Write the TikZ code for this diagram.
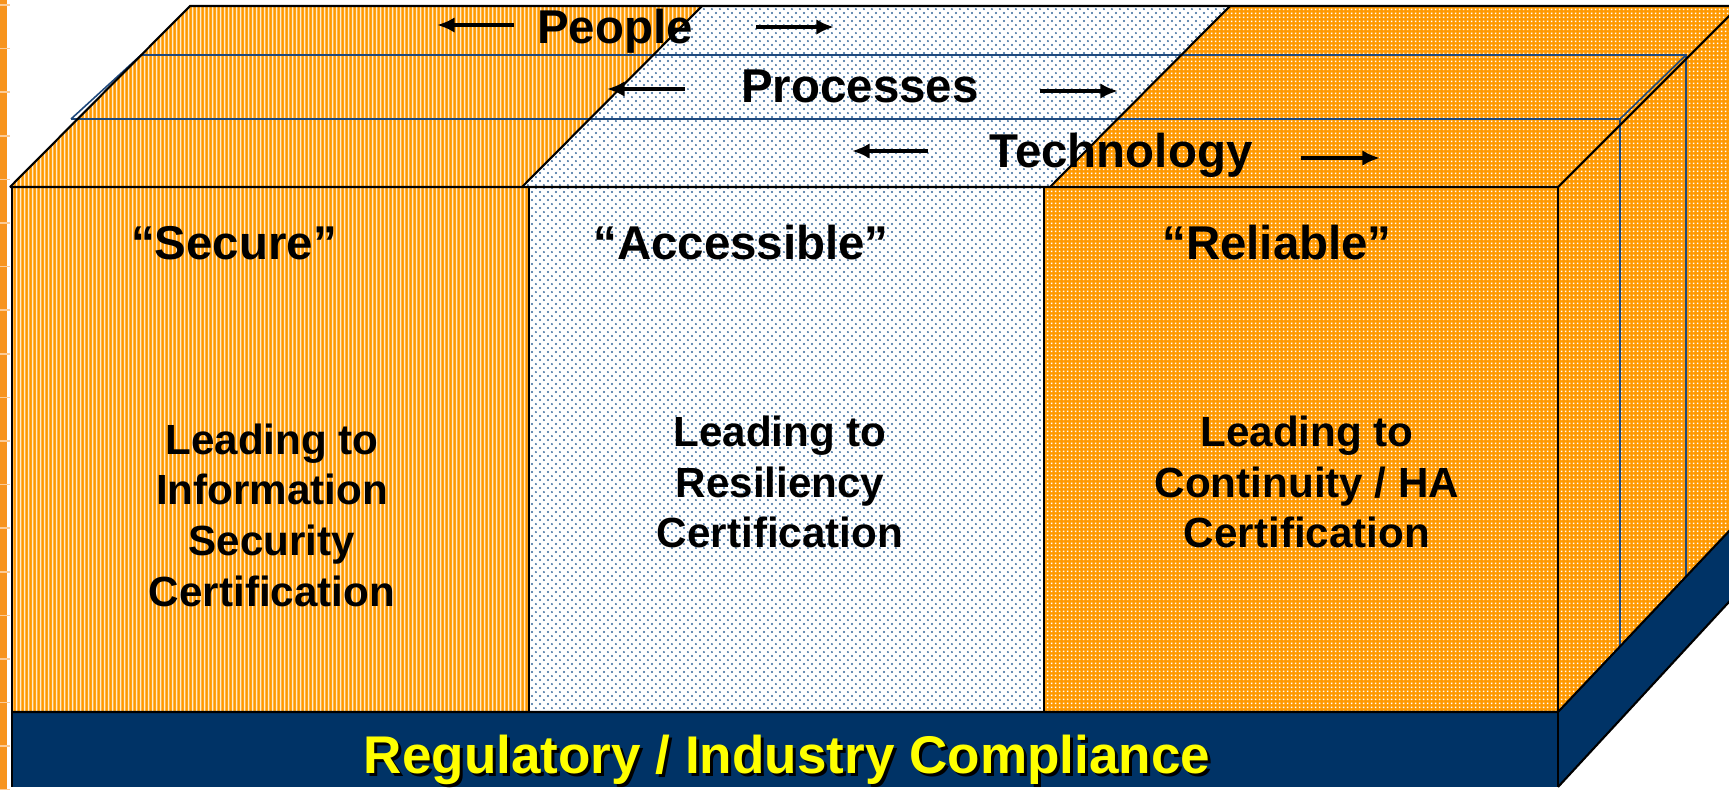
\documentclass[tikz,border=0pt]{standalone}
\usepackage{fontspec}
\setmainfont{Liberation Sans}
\usetikzlibrary{patterns,arrows.meta}

\definecolor{boxorange}{RGB}{255,153,0}
\definecolor{stripelight}{RGB}{255,236,205}
\definecolor{dotblue}{RGB}{51,102,153}
\definecolor{basenavy}{RGB}{0,51,102}
\definecolor{slabblue}{RGB}{31,73,125}
\definecolor{sideorange}{RGB}{247,148,29}
\definecolor{ticklight}{RGB}{252,204,150}
\definecolor{compyellow}{RGB}{255,255,0}

% fill patterns of the three columns
\pgfdeclarepatternformonly{tinystripes}{\pgfpointorigin}{\pgfqpoint{1.05pt}{20pt}}{\pgfqpoint{1.05pt}{20pt}}{%
	\pgfpathrectangle{\pgfqpoint{0.25pt}{0pt}}{\pgfqpoint{0.5pt}{20pt}}%
	\pgfusepath{fill}}
\pgfdeclarepatternformonly{tinydots}{\pgfpointorigin}{\pgfqpoint{2.4pt}{2.4pt}}{\pgfqpoint{2.4pt}{2.4pt}}{%
	\pgfpathcircle{\pgfqpoint{0.6pt}{0.6pt}}{0.32pt}%
	\pgfpathcircle{\pgfqpoint{1.8pt}{1.8pt}}{0.32pt}%
	\pgfusepath{fill}}
\pgfdeclarepatternformonly{tinysquares}{\pgfpointorigin}{\pgfqpoint{1.15pt}{1.15pt}}{\pgfqpoint{1.15pt}{1.15pt}}{%
	\pgfpathrectangle{\pgfqpoint{0.35pt}{0.35pt}}{\pgfqpoint{0.45pt}{0.45pt}}%
	\pgfusepath{fill}}

\begin{document}
\begin{tikzpicture}[x=0.1mm,y=-0.1mm,line width=0.6pt,>={Latex[length=5pt,width=4.4pt]},
	stripeface/.style={preaction={fill=boxorange},pattern=tinystripes,pattern color=stripelight},
	dotface/.style={preaction={fill=white},pattern=tinydots,pattern color=dotblue},
	gridface/.style={preaction={fill=boxorange},pattern=tinysquares,pattern color=white},
	slabline/.style={draw=slabblue,line width=0.45pt},
	flow/.style={->,line width=1pt},
	layer/.style={font=\fontsize{13.5}{16}\selectfont\bfseries,anchor=base,inner sep=0pt},
	heading/.style={font=\fontsize{13.5}{16}\selectfont\bfseries,anchor=base,inner sep=0pt},
	bodytext/.style={font=\fontsize{12}{14.4}\selectfont\bfseries,align=center,inner sep=0pt},
	basetext/.style={font=\fontsize{15.1}{18}\selectfont\bfseries,anchor=base,inner sep=0pt}]
		\useasboundingbox (0,0) rectangle (1729,789);
		\fill[white] (0,0) rectangle (1729,789);
		\clip (0,0) rectangle (1729,789);
		% orange bar at the left edge
		\fill[sideorange] (0,0) rectangle (7,789);
		\foreach \t in {0,...,18}
			\draw[ticklight,line width=0.45pt] (0,{5+43.6*\t}) -- (10,{5+43.6*\t});
		% front columns
		\fill[stripeface] (12,187) rectangle (529,712);
		\fill[dotface] (529,187) rectangle (1044,712);
		\fill[gridface] (1044,187) rectangle (1558,712);
		% top face
		\fill[stripeface] (10,187) -- (522,187) -- (702,6) -- (190,6) -- cycle;
		\fill[dotface] (522,187) -- (1050,187) -- (1230,6) -- (702,6) -- cycle;
		\fill[gridface] (1050,187) -- (1558,187) -- (1740,5) -- (1230,6) -- cycle;
		% right face
		\fill[gridface] (1558,187) -- (1740,5) -- (1740,519.5) -- (1558,712) -- cycle;
		% base
		\fill[basenavy] (12,712) rectangle (1558,787);
		\fill[basenavy] (1558,712) -- (1740,519.5) -- (1740,590) -- (1558,787) -- cycle;
		% layer borders
		\draw[slabline] (71,119) -- (141,55) -- (1686,55) -- (1686,576.5);
		\draw[slabline] (71,119) -- (1620,119) -- (1620,646.4);
		\draw[slabline] (1620,119) -- (1686,55);
		% outlines
		\draw (10,187) -- (190,6) -- (1740,6);
		\draw (522,187) -- (702,6);
		\draw (1050,187) -- (1230,6);
		\draw (10,187) -- (1558,187) -- (1740,5);
		\draw (12,187) -- (12,787);
		\draw (529,187) -- (529,712);
		\draw (1044,187) -- (1044,712);
		\draw (1558,187) -- (1558,787);
		\draw (12,712) -- (1558,712) -- (1740,519.5);
		\draw (1558,787) -- (1740,590);
		% layer names
		\node[layer] (people) at (615,43) {People};
		\node[layer] (processes) at (860,102) {Processes};
		\node[layer] (technology) at (1121,167) {Technology};
		\coordinate (peL1) at (514,25); \coordinate (peL2) at (437,25);
		\coordinate (peR1) at (756,27); \coordinate (peR2) at (834,27);
		\coordinate (prL1) at (685,89); \coordinate (prL2) at (607,89);
		\coordinate (prR1) at (1040,91); \coordinate (prR2) at (1118,91);
		\coordinate (teL1) at (928,151); \coordinate (teL2) at (852,151);
		\coordinate (teR1) at (1301,158); \coordinate (teR2) at (1380,158);
		\draw[flow] (peL1) -- (peL2);
		\draw[flow] (peR1) -- (peR2);
		\draw[flow] (prL1) -- (prL2);
		\draw[flow] (prR1) -- (prR2);
		\draw[flow] (teL1) -- (teL2);
		\draw[flow] (teR1) -- (teR2);
		% columns
		\node[heading] (secure) at (234,259) {“Secure”};
		\node[heading] (accessible) at (741,259) {“Accessible”};
		\node[heading] (reliable) at (1277,259) {“Reliable”};
		\node[bodytext] (securecert) at (272,515) {Leading to\\Information\\Security\\Certification};
		\node[bodytext] (accesscert) at (780,482) {Leading to\\Resiliency\\Certification};
		\node[bodytext] (reliacert) at (1307,482) {Leading to\\Continuity / HA\\Certification};
		% base label with its shadow
		\node[basetext,black] (complshadow) at (790,776) {Regulatory / Industry Compliance};
		\node[basetext,compyellow] (compliance) at (787,773) {Regulatory / Industry Compliance};
\end{tikzpicture}
\end{document}
